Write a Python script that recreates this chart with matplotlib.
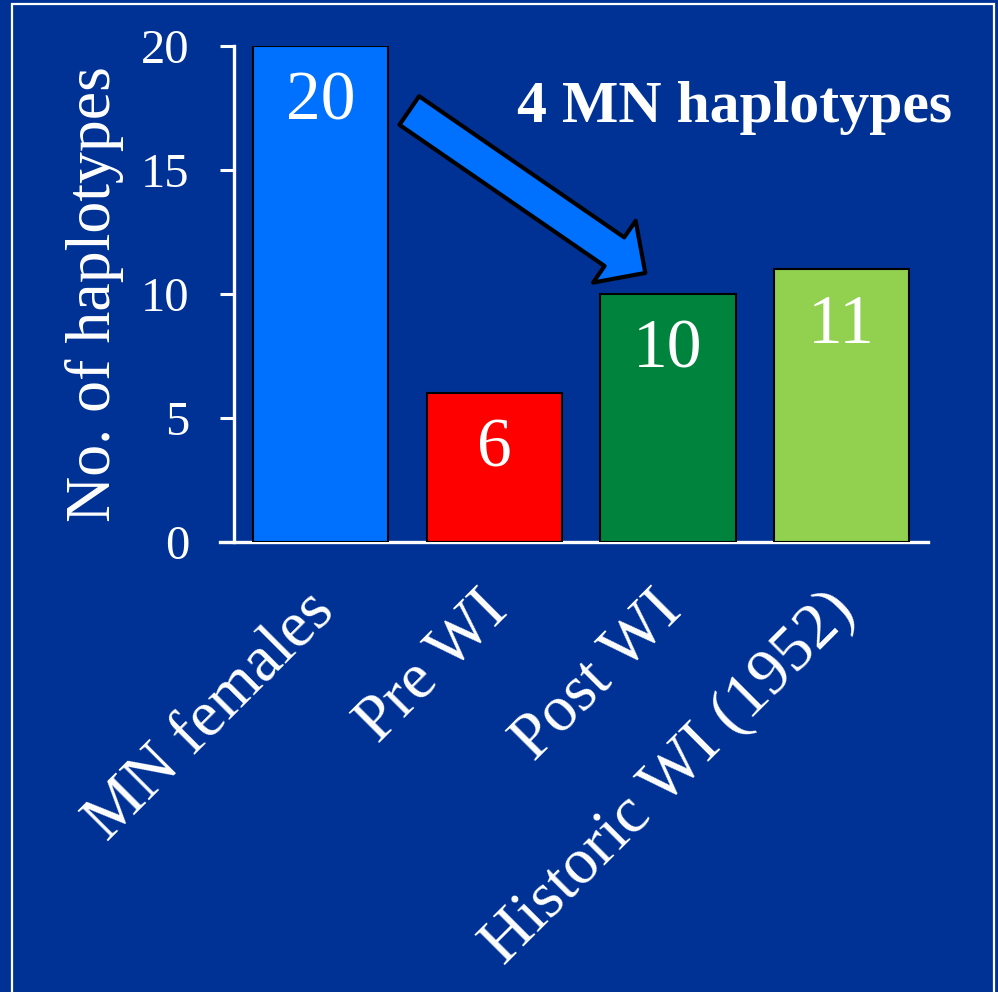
import matplotlib
matplotlib.use("Agg")
import matplotlib.pyplot as plt
from matplotlib.patches import FancyArrowPatch, Rectangle
from matplotlib.transforms import ScaledTranslation

categories = ["MN females", "Pre WI", "Post WI", "Historic WI (1952)"]
values = [20, 6, 10, 11]
bar_colors = ["#0070FF", "#FF0000", "#00843D", "#92D050"]
yticks = [0, 5, 10, 15, 20]

BG = "#003296"
SERIF = ["Liberation Serif", "DejaVu Serif"]

fig = plt.figure(figsize=(9.98, 9.92), dpi=100, facecolor=BG)
ax = fig.add_axes([0.2345, 0.4536, 0.6955, 0.5])
ax.set_facecolor(BG)

x = list(range(len(categories)))
bars = ax.bar(x, values, width=0.78, color=bar_colors,
              edgecolor="black", linewidth=1.5, zorder=3)

ax.set_xlim(-0.5, 3.5)
ax.set_ylim(0, 20)
ax.set_yticks(yticks)
ax.set_yticklabels([str(t) for t in yticks], fontsize=35,
                   family=SERIF, color="white")
ax.set_xticks(x)
ax.set_xticklabels(categories, rotation=45, ha="right", va="top",
                   rotation_mode="anchor", fontsize=47,
                   family=SERIF, color="white")
ax.tick_params(axis="y", length=10, width=2.2, color="white", pad=22)
ax.tick_params(axis="x", length=0, pad=22)

# nudge the slanted category labels down and to the left
shift = ScaledTranslation(-12 / 72, -6 / 72, fig.dpi_scale_trans)
for lbl in ax.get_xticklabels():
    lbl.set_transform(lbl.get_transform() + shift)

for side in ("top", "right"):
    ax.spines[side].set_visible(False)
for side in ("left", "bottom"):
    ax.spines[side].set_color("white")
    ax.spines[side].set_linewidth(2.4)
ax.spines["bottom"].set_bounds(-0.58, 3.5)

ax.set_ylabel("No. of haplotypes", fontsize=46, family=SERIF,
              color="white", labelpad=12)

# value labels inside each bar
for xi, v in zip(x, values):
    ax.annotate(str(v), (xi, v), xytext=(0, -41), textcoords="offset points",
                ha="center", va="center", fontsize=50, family=SERIF,
                color="white", zorder=4)

# block arrow pointing from the first bar to the Post WI bar
arrow = FancyArrowPatch((0.51, 17.4), (1.87, 10.85),
                        arrowstyle="simple,head_length=27,head_width=54,tail_width=25",
                        mutation_scale=1, facecolor="#0070FF", edgecolor="black",
                        linewidth=3, shrinkA=0, shrinkB=0, zorder=5,
                        clip_on=False)
ax.add_patch(arrow)

fig.text(0.736, 0.891, "4 MN haplotypes", fontsize=43, fontweight="bold",
         family=SERIF, color="white", ha="center", va="center")

# white frame around the slide area
frame = Rectangle((12 / 998, -0.02), (994 - 12) / 998, 1.02 - 4 / 992,
                  transform=fig.transFigure, fill=False,
                  edgecolor="white", linewidth=1.6)
fig.patches.append(frame)

fig.savefig("out.png", dpi=100, facecolor=BG)
